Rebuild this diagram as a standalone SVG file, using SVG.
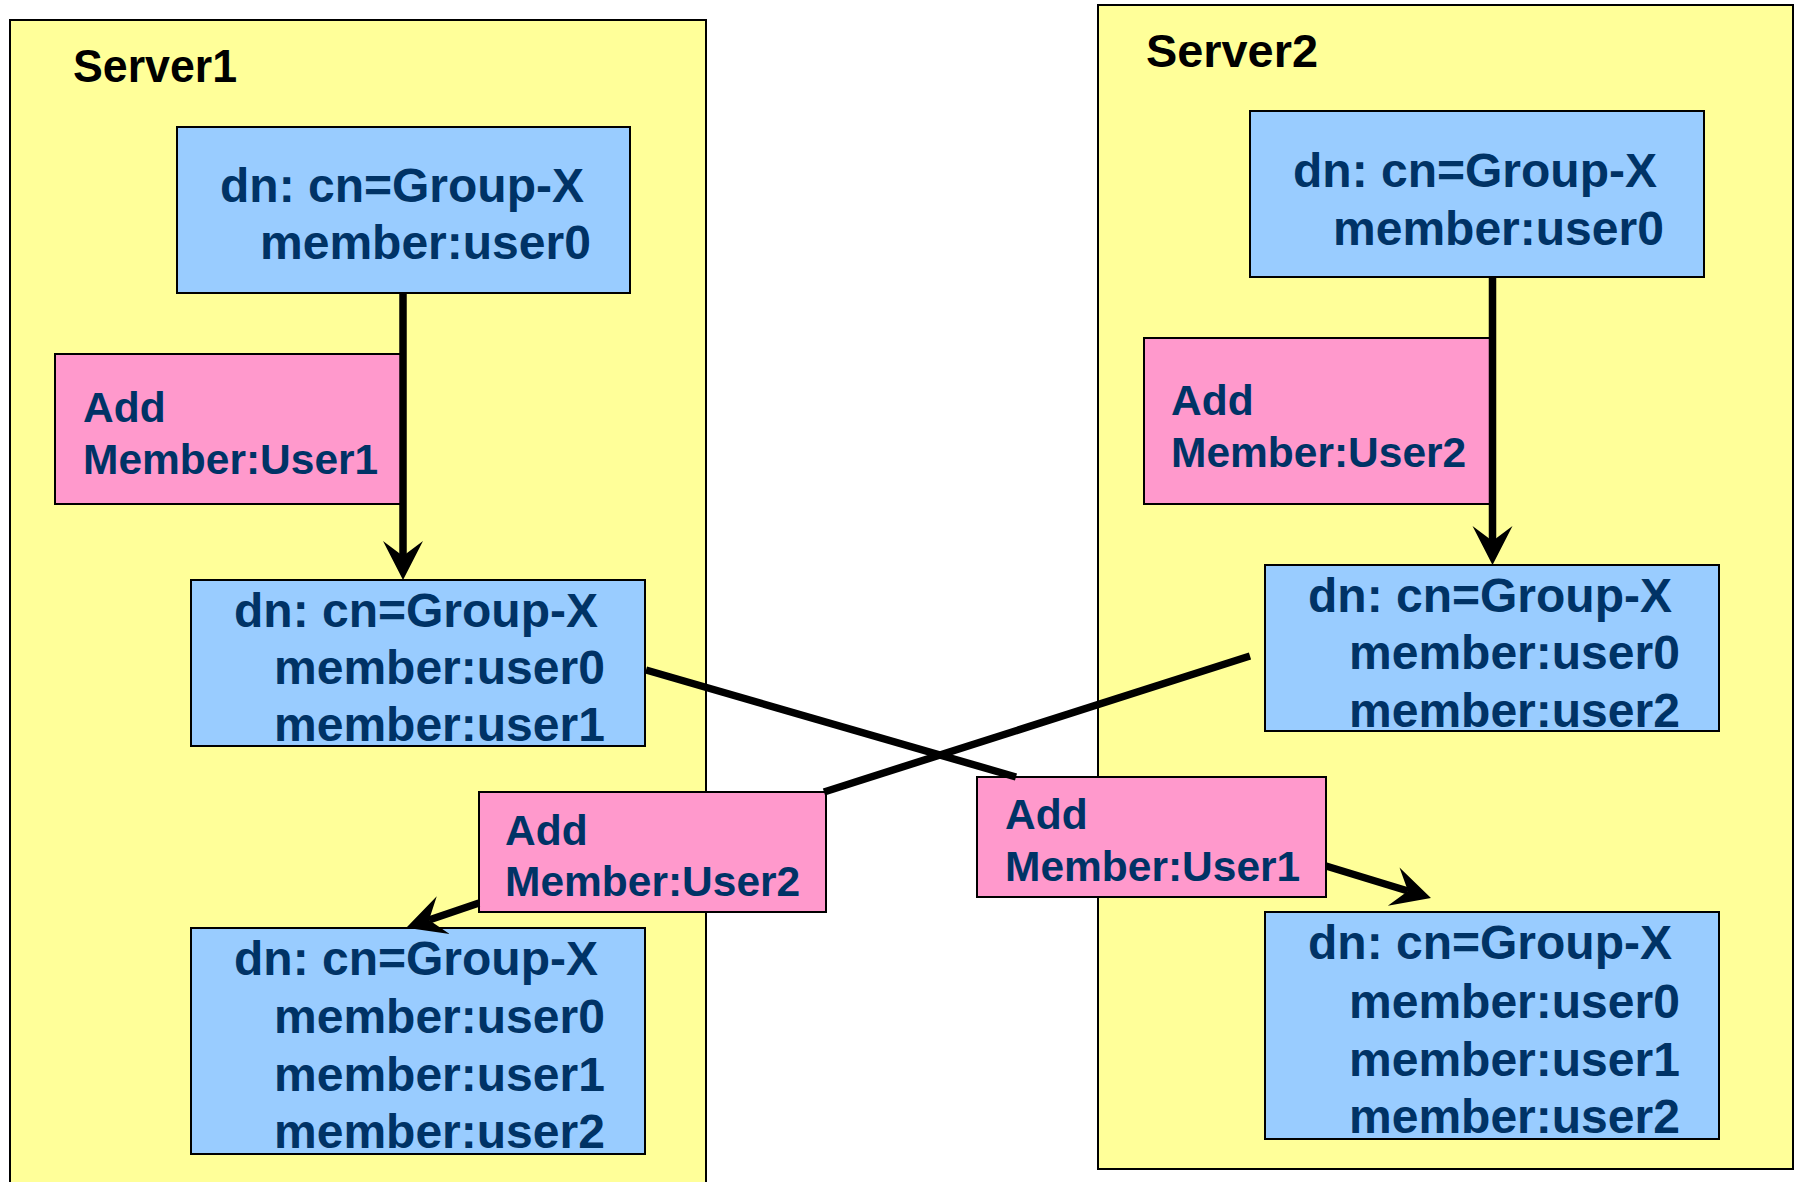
<svg xmlns="http://www.w3.org/2000/svg" width="1797" height="1182" viewBox="0 0 1797 1182">
<style>
.server{fill:#FFFF99;stroke:#000;stroke-width:2}
.blue{fill:#99CCFF;stroke:#000;stroke-width:2}
.pink{fill:#FF99CC;stroke:#000;stroke-width:2}
.lbl{font-family:"Liberation Sans",Arial,sans-serif;font-weight:bold;font-size:47px;fill:#000}
.t{font-family:"Liberation Sans",Arial,sans-serif;font-weight:bold;font-size:48px;fill:#003366}
.p{font-family:"Liberation Sans",Arial,sans-serif;font-weight:bold;font-size:42.5px;fill:#003366}
.conn{fill:none;stroke:#000;stroke-width:7.5}
</style>
<defs>
<marker id="ah" markerUnits="userSpaceOnUse" markerWidth="42" markerHeight="44" viewBox="0 -22 42 44" refX="15" refY="0" orient="auto">
<path d="M0,-20 L39,0 L0,20 L15,0 z" fill="#000"/>
</marker>
</defs>
<rect width="1797" height="1182" fill="#fff"/>
<g id="server1">
<rect class="server" x="10" y="20" width="696" height="1180"/>
<text class="lbl" x="73" y="82" textLength="164" lengthAdjust="spacingAndGlyphs">Server1</text>
</g>
<g id="server2">
<rect class="server" x="1098" y="5" width="695" height="1164"/>
<text class="lbl" x="1146" y="67" textLength="172" lengthAdjust="spacingAndGlyphs">Server2</text>
</g>
<g id="s1-group-a">
<rect class="blue" x="177" y="127" width="453" height="166"/>
<text class="t" x="220" y="202">dn: cn=Group-X</text>
<text class="t" x="260" y="259">member:user0</text>
</g>
<g id="s1-add-user1">
<rect class="pink" x="55" y="354" width="348" height="150"/>
<text class="p" x="83" y="422">Add</text>
<text class="p" x="83" y="474">Member:User1</text>
</g>
<g id="s1-group-b">
<rect class="blue" x="191" y="580" width="454" height="166"/>
<text class="t" x="234" y="627">dn: cn=Group-X</text>
<text class="t" x="274" y="684">member:user0</text>
<text class="t" x="274" y="741">member:user1</text>
</g>
<g id="s1-group-c">
<rect class="blue" x="191" y="928" width="454" height="226"/>
<text class="t" x="234" y="975">dn: cn=Group-X</text>
<text class="t" x="274" y="1033">member:user0</text>
<text class="t" x="274" y="1091">member:user1</text>
<text class="t" x="274" y="1148">member:user2</text>
</g>
<g id="repl-add-user2">
<rect class="pink" x="479" y="792" width="347" height="120"/>
<text class="p" x="505" y="845">Add</text>
<text class="p" x="505" y="896">Member:User2</text>
</g>
<g id="repl-add-user1">
<rect class="pink" x="977" y="777" width="349" height="120"/>
<text class="p" x="1005" y="829">Add</text>
<text class="p" x="1005" y="881">Member:User1</text>
</g>
<g id="s2-group-a">
<rect class="blue" x="1250" y="111" width="454" height="166"/>
<text class="t" x="1293" y="187">dn: cn=Group-X</text>
<text class="t" x="1333" y="245">member:user0</text>
</g>
<g id="s2-add-user2">
<rect class="pink" x="1144" y="338" width="346" height="166"/>
<text class="p" x="1171" y="415">Add</text>
<text class="p" x="1171" y="467">Member:User2</text>
</g>
<g id="s2-group-b">
<rect class="blue" x="1265" y="565" width="454" height="166"/>
<text class="t" x="1308" y="612">dn: cn=Group-X</text>
<text class="t" x="1349" y="669">member:user0</text>
<text class="t" x="1349" y="727">member:user2</text>
</g>
<g id="s2-group-c">
<rect class="blue" x="1265" y="912" width="454" height="227"/>
<text class="t" x="1308" y="959">dn: cn=Group-X</text>
<text class="t" x="1349" y="1018">member:user0</text>
<text class="t" x="1349" y="1076">member:user1</text>
<text class="t" x="1349" y="1133">member:user2</text>
</g>
<g id="connectors">
<path class="conn" d="M403,293 L403,556" marker-end="url(#ah)"/>
<path class="conn" d="M1492.5,277 L1492.5,541" marker-end="url(#ah)"/>
<path class="conn" d="M646,670 L1016,777"/>
<path class="conn" d="M1326,866 L1408,891" marker-end="url(#ah)"/>
<path class="conn" d="M1250,656 L824,792"/>
<path class="conn" d="M479,903 L429,920" marker-end="url(#ah)"/>
</g>
</svg>
